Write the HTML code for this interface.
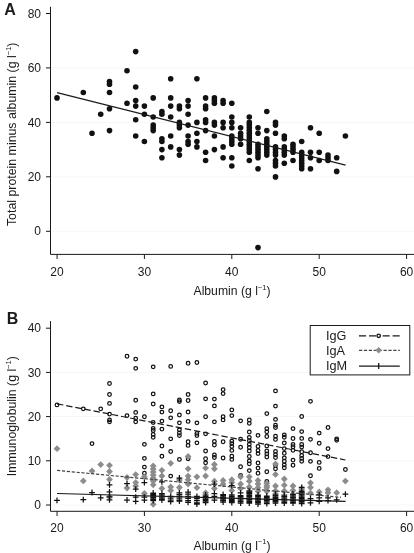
<!DOCTYPE html>
<html><head><meta charset="utf-8">
<style>
html,body{margin:0;padding:0;background:#fff;}
body{width:414px;height:553px;overflow:hidden;position:relative;font-family:"Liberation Sans",sans-serif;color:#1a1a1a;}
svg{position:absolute;left:0;top:0;will-change:transform;}
text{font-family:"Liberation Sans",sans-serif;fill:#1a1a1a;}
.t{font-size:12px;}
.tt{font-size:12.2px;}
.b{font-size:16px;font-weight:bold;}
</style></head><body>
<svg width="414" height="553" viewBox="0 0 414 553">
<!-- gridlines A -->
<g stroke="#f7f7f7" stroke-width="1">
<line x1="51" y1="67.9" x2="414" y2="67.9"/>
<line x1="51" y1="122.4" x2="414" y2="122.4"/>
<line x1="51" y1="176.8" x2="414" y2="176.8"/>
<line x1="51" y1="231.3" x2="414" y2="231.3"/>
</g>
<!-- axes A -->
<g stroke="#1a1a1a" stroke-width="1" fill="none">
<path d="M50.5 6.8V254.4H414"/>
<path d="M46 13.5H50.5M46 67.9H50.5M46 122.4H50.5M46 176.8H50.5M46 231.3H50.5"/>
<path d="M57.05 254.4V259M144.4 254.4V259M231.8 254.4V259M319.2 254.4V259M406.6 254.4V259"/>
</g>
<g class="t" text-anchor="end">
<text x="41" y="17.6">80</text>
<text x="41" y="72">60</text>
<text x="41" y="126.5">40</text>
<text x="41" y="180.9">20</text>
<text x="41" y="235.4">0</text>
</g>
<g class="t" text-anchor="middle">
<text x="57.05" y="276">20</text>
<text x="144.4" y="276">30</text>
<text x="231.8" y="276">40</text>
<text x="319.2" y="276">50</text>
<text x="406.6" y="276">60</text>
<text class="tt" x="232" y="295.3">Albumin (g l<tspan dy="-5.5" font-size="7.5">−1</tspan><tspan dy="5.5">)</tspan></text>
<text class="tt" style="font-size:12.35px" transform="translate(16,134.3) rotate(-90)">Total protein minus albumin (g l<tspan dy="-5.5" font-size="7.5">−1</tspan><tspan dy="5.5">)</tspan></text>
</g>
<text class="b" x="4.2" y="14.8">A</text>
<g fill="#111">
<circle cx="57.0" cy="97.9" r="2.8"/>
<circle cx="83.3" cy="92.5" r="2.8"/>
<circle cx="92.0" cy="133.3" r="2.8"/>
<circle cx="100.7" cy="114.2" r="2.8"/>
<circle cx="109.5" cy="81.6" r="2.8"/>
<circle cx="109.5" cy="84.3" r="2.8"/>
<circle cx="109.5" cy="92.5" r="2.8"/>
<circle cx="109.5" cy="108.8" r="2.8"/>
<circle cx="109.5" cy="130.6" r="2.8"/>
<circle cx="127.0" cy="70.7" r="2.8"/>
<circle cx="127.0" cy="103.3" r="2.8"/>
<circle cx="135.7" cy="51.6" r="2.8"/>
<circle cx="135.7" cy="87.0" r="2.8"/>
<circle cx="135.7" cy="100.6" r="2.8"/>
<circle cx="135.7" cy="106.1" r="2.8"/>
<circle cx="135.7" cy="119.7" r="2.8"/>
<circle cx="135.7" cy="136.0" r="2.8"/>
<circle cx="144.4" cy="106.1" r="2.8"/>
<circle cx="144.4" cy="114.2" r="2.8"/>
<circle cx="144.4" cy="141.5" r="2.8"/>
<circle cx="153.2" cy="97.9" r="2.8"/>
<circle cx="153.2" cy="117.0" r="2.8"/>
<circle cx="153.2" cy="125.1" r="2.8"/>
<circle cx="153.2" cy="127.8" r="2.8"/>
<circle cx="153.2" cy="130.6" r="2.8"/>
<circle cx="161.9" cy="111.5" r="2.8"/>
<circle cx="161.9" cy="114.2" r="2.8"/>
<circle cx="161.9" cy="138.7" r="2.8"/>
<circle cx="161.9" cy="141.5" r="2.8"/>
<circle cx="161.9" cy="149.6" r="2.8"/>
<circle cx="161.9" cy="157.8" r="2.8"/>
<circle cx="170.7" cy="78.8" r="2.8"/>
<circle cx="170.7" cy="97.9" r="2.8"/>
<circle cx="170.7" cy="106.1" r="2.8"/>
<circle cx="170.7" cy="117.0" r="2.8"/>
<circle cx="170.7" cy="136.0" r="2.8"/>
<circle cx="170.7" cy="146.9" r="2.8"/>
<circle cx="179.4" cy="106.1" r="2.8"/>
<circle cx="179.4" cy="108.8" r="2.8"/>
<circle cx="179.4" cy="122.4" r="2.8"/>
<circle cx="179.4" cy="125.1" r="2.8"/>
<circle cx="179.4" cy="127.8" r="2.8"/>
<circle cx="179.4" cy="149.6" r="2.8"/>
<circle cx="179.4" cy="155.1" r="2.8"/>
<circle cx="188.1" cy="100.6" r="2.8"/>
<circle cx="188.1" cy="106.1" r="2.8"/>
<circle cx="188.1" cy="114.2" r="2.8"/>
<circle cx="188.1" cy="125.1" r="2.8"/>
<circle cx="188.1" cy="136.0" r="2.8"/>
<circle cx="188.1" cy="141.5" r="2.8"/>
<circle cx="188.1" cy="144.2" r="2.8"/>
<circle cx="196.9" cy="78.8" r="2.8"/>
<circle cx="196.9" cy="122.4" r="2.8"/>
<circle cx="196.9" cy="133.3" r="2.8"/>
<circle cx="196.9" cy="141.5" r="2.8"/>
<circle cx="196.9" cy="146.9" r="2.8"/>
<circle cx="205.6" cy="97.9" r="2.8"/>
<circle cx="205.6" cy="106.1" r="2.8"/>
<circle cx="205.6" cy="108.8" r="2.8"/>
<circle cx="205.6" cy="119.7" r="2.8"/>
<circle cx="205.6" cy="122.4" r="2.8"/>
<circle cx="205.6" cy="130.6" r="2.8"/>
<circle cx="205.6" cy="152.3" r="2.8"/>
<circle cx="205.6" cy="160.5" r="2.8"/>
<circle cx="214.4" cy="97.9" r="2.8"/>
<circle cx="214.4" cy="100.6" r="2.8"/>
<circle cx="214.4" cy="103.3" r="2.8"/>
<circle cx="214.4" cy="122.4" r="2.8"/>
<circle cx="214.4" cy="125.1" r="2.8"/>
<circle cx="214.4" cy="136.0" r="2.8"/>
<circle cx="214.4" cy="149.6" r="2.8"/>
<circle cx="223.1" cy="100.6" r="2.8"/>
<circle cx="223.1" cy="103.3" r="2.8"/>
<circle cx="223.1" cy="122.4" r="2.8"/>
<circle cx="223.1" cy="127.8" r="2.8"/>
<circle cx="223.1" cy="146.9" r="2.8"/>
<circle cx="223.1" cy="157.8" r="2.8"/>
<circle cx="231.8" cy="103.3" r="2.8"/>
<circle cx="231.8" cy="117.0" r="2.8"/>
<circle cx="231.8" cy="122.4" r="2.8"/>
<circle cx="231.8" cy="127.8" r="2.8"/>
<circle cx="231.8" cy="136.0" r="2.8"/>
<circle cx="231.8" cy="138.7" r="2.8"/>
<circle cx="231.8" cy="141.5" r="2.8"/>
<circle cx="231.8" cy="144.2" r="2.8"/>
<circle cx="231.8" cy="157.8" r="2.8"/>
<circle cx="231.8" cy="166.0" r="2.8"/>
<circle cx="240.6" cy="127.8" r="2.8"/>
<circle cx="240.6" cy="133.3" r="2.8"/>
<circle cx="240.6" cy="136.0" r="2.8"/>
<circle cx="240.6" cy="138.7" r="2.8"/>
<circle cx="240.6" cy="144.2" r="2.8"/>
<circle cx="249.3" cy="117.0" r="2.8"/>
<circle cx="249.3" cy="152.3" r="2.8"/>
<circle cx="249.3" cy="149.6" r="2.8"/>
<circle cx="249.3" cy="146.9" r="2.8"/>
<circle cx="249.3" cy="144.2" r="2.8"/>
<circle cx="249.3" cy="141.5" r="2.8"/>
<circle cx="249.3" cy="138.7" r="2.8"/>
<circle cx="249.3" cy="136.0" r="2.8"/>
<circle cx="249.3" cy="133.3" r="2.8"/>
<circle cx="249.3" cy="130.6" r="2.8"/>
<circle cx="249.3" cy="127.8" r="2.8"/>
<circle cx="249.3" cy="125.1" r="2.8"/>
<circle cx="249.3" cy="122.4" r="2.8"/>
<circle cx="249.3" cy="160.5" r="2.8"/>
<circle cx="258.0" cy="127.8" r="2.8"/>
<circle cx="258.0" cy="133.3" r="2.8"/>
<circle cx="258.0" cy="157.8" r="2.8"/>
<circle cx="258.0" cy="155.1" r="2.8"/>
<circle cx="258.0" cy="152.3" r="2.8"/>
<circle cx="258.0" cy="149.6" r="2.8"/>
<circle cx="258.0" cy="146.9" r="2.8"/>
<circle cx="258.0" cy="144.2" r="2.8"/>
<circle cx="258.0" cy="168.7" r="2.8"/>
<circle cx="258.0" cy="247.6" r="2.8"/>
<circle cx="266.8" cy="111.5" r="2.8"/>
<circle cx="266.8" cy="130.6" r="2.8"/>
<circle cx="266.8" cy="155.1" r="2.8"/>
<circle cx="266.8" cy="152.3" r="2.8"/>
<circle cx="266.8" cy="149.6" r="2.8"/>
<circle cx="266.8" cy="146.9" r="2.8"/>
<circle cx="266.8" cy="144.2" r="2.8"/>
<circle cx="266.8" cy="141.5" r="2.8"/>
<circle cx="266.8" cy="138.7" r="2.8"/>
<circle cx="275.5" cy="122.4" r="2.8"/>
<circle cx="275.5" cy="125.1" r="2.8"/>
<circle cx="275.5" cy="133.3" r="2.8"/>
<circle cx="275.5" cy="155.1" r="2.8"/>
<circle cx="275.5" cy="152.3" r="2.8"/>
<circle cx="275.5" cy="149.6" r="2.8"/>
<circle cx="275.5" cy="146.9" r="2.8"/>
<circle cx="275.5" cy="160.5" r="2.8"/>
<circle cx="275.5" cy="163.2" r="2.8"/>
<circle cx="275.5" cy="166.0" r="2.8"/>
<circle cx="275.5" cy="176.9" r="2.8"/>
<circle cx="284.3" cy="136.0" r="2.8"/>
<circle cx="284.3" cy="138.7" r="2.8"/>
<circle cx="284.3" cy="155.1" r="2.8"/>
<circle cx="284.3" cy="152.3" r="2.8"/>
<circle cx="284.3" cy="149.6" r="2.8"/>
<circle cx="284.3" cy="146.9" r="2.8"/>
<circle cx="284.3" cy="163.2" r="2.8"/>
<circle cx="293.0" cy="152.3" r="2.8"/>
<circle cx="293.0" cy="149.6" r="2.8"/>
<circle cx="293.0" cy="146.9" r="2.8"/>
<circle cx="293.0" cy="144.2" r="2.8"/>
<circle cx="293.0" cy="160.5" r="2.8"/>
<circle cx="301.7" cy="141.5" r="2.8"/>
<circle cx="301.7" cy="168.7" r="2.8"/>
<circle cx="301.7" cy="166.0" r="2.8"/>
<circle cx="301.7" cy="163.2" r="2.8"/>
<circle cx="301.7" cy="160.5" r="2.8"/>
<circle cx="301.7" cy="157.8" r="2.8"/>
<circle cx="301.7" cy="155.1" r="2.8"/>
<circle cx="301.7" cy="152.3" r="2.8"/>
<circle cx="310.5" cy="127.8" r="2.8"/>
<circle cx="310.5" cy="152.3" r="2.8"/>
<circle cx="310.5" cy="157.8" r="2.8"/>
<circle cx="310.5" cy="168.7" r="2.8"/>
<circle cx="319.2" cy="133.3" r="2.8"/>
<circle cx="319.2" cy="152.3" r="2.8"/>
<circle cx="319.2" cy="160.5" r="2.8"/>
<circle cx="328.0" cy="155.1" r="2.8"/>
<circle cx="328.0" cy="157.8" r="2.8"/>
<circle cx="328.0" cy="160.5" r="2.8"/>
<circle cx="336.7" cy="157.8" r="2.8"/>
<circle cx="336.7" cy="171.4" r="2.8"/>
<circle cx="345.4" cy="136.0" r="2.8"/>
</g>
<line x1="57.05" y1="92.7" x2="345.6" y2="165.2" stroke="#1a1a1a" stroke-width="1.2"/>
<!-- gridlines B -->
<g stroke="#f7f7f7" stroke-width="1">
<line x1="51" y1="372.4" x2="414" y2="372.4"/>
<line x1="51" y1="416.6" x2="414" y2="416.6"/>
<line x1="51" y1="460.8" x2="414" y2="460.8"/>
<line x1="51" y1="505" x2="414" y2="505"/>
</g>
<!-- axes B -->
<g stroke="#1a1a1a" stroke-width="1" fill="none">
<path d="M50.5 321.1V511.3H414"/>
<path d="M46 328.2H50.5M46 372.4H50.5M46 416.6H50.5M46 460.8H50.5M46 505H50.5"/>
<path d="M57.05 511.3V516M144.4 511.3V516M231.8 511.3V516M319.2 511.3V516M406.6 511.3V516"/>
</g>
<g class="t" text-anchor="end">
<text x="41" y="332.4">40</text>
<text x="41" y="376.6">30</text>
<text x="41" y="420.8">20</text>
<text x="41" y="465">10</text>
<text x="41" y="509.2">0</text>
</g>
<g class="t" text-anchor="middle">
<text x="57.05" y="532">20</text>
<text x="144.4" y="532">30</text>
<text x="231.8" y="532">40</text>
<text x="319.2" y="532">50</text>
<text x="406.6" y="532">60</text>
<text class="tt" x="232" y="549.5">Albumin (g l<tspan dy="-5.5" font-size="7.5">−1</tspan><tspan dy="5.5">)</tspan></text>
<text class="tt" style="font-size:12.3px" transform="translate(16,416.2) rotate(-90)">Immunoglobulin (g l<tspan dy="-5.5" font-size="7.5">−1</tspan><tspan dy="5.5">)</tspan></text>
</g>
<text class="b" x="6.8" y="324.2">B</text>
<g fill="none" stroke="#111" stroke-width="1.25">
<circle cx="57.0" cy="404.9" r="1.8"/>
<circle cx="83.3" cy="408.8" r="1.8"/>
<circle cx="92.0" cy="443.6" r="1.8"/>
<circle cx="100.7" cy="408.8" r="1.8"/>
<circle cx="109.5" cy="383.5" r="1.8"/>
<circle cx="109.5" cy="394.5" r="1.8"/>
<circle cx="109.5" cy="403.4" r="1.8"/>
<circle cx="109.5" cy="414.1" r="1.8"/>
<circle cx="109.5" cy="419.9" r="1.8"/>
<circle cx="109.5" cy="421.8" r="1.8"/>
<circle cx="127.0" cy="356.2" r="1.8"/>
<circle cx="127.0" cy="415.6" r="1.8"/>
<circle cx="135.7" cy="359.1" r="1.8"/>
<circle cx="135.7" cy="368.3" r="1.8"/>
<circle cx="135.7" cy="400.2" r="1.8"/>
<circle cx="135.7" cy="412.4" r="1.8"/>
<circle cx="135.7" cy="418.2" r="1.8"/>
<circle cx="135.7" cy="421.8" r="1.8"/>
<circle cx="144.4" cy="416.7" r="1.8"/>
<circle cx="144.4" cy="444.3" r="1.8"/>
<circle cx="144.4" cy="458.3" r="1.8"/>
<circle cx="144.4" cy="467.1" r="1.8"/>
<circle cx="144.4" cy="473.2" r="1.8"/>
<circle cx="153.2" cy="366.8" r="1.8"/>
<circle cx="153.2" cy="393.9" r="1.8"/>
<circle cx="153.2" cy="404.0" r="1.8"/>
<circle cx="153.2" cy="422.5" r="1.8"/>
<circle cx="153.2" cy="428.3" r="1.8"/>
<circle cx="153.2" cy="430.5" r="1.8"/>
<circle cx="153.2" cy="434.4" r="1.8"/>
<circle cx="153.2" cy="437.3" r="1.8"/>
<circle cx="161.9" cy="406.9" r="1.8"/>
<circle cx="161.9" cy="412.1" r="1.8"/>
<circle cx="161.9" cy="421.1" r="1.8"/>
<circle cx="161.9" cy="429.1" r="1.8"/>
<circle cx="161.9" cy="446.0" r="1.8"/>
<circle cx="161.9" cy="456.2" r="1.8"/>
<circle cx="170.7" cy="366.4" r="1.8"/>
<circle cx="170.7" cy="410.7" r="1.8"/>
<circle cx="170.7" cy="417.8" r="1.8"/>
<circle cx="170.7" cy="438.8" r="1.8"/>
<circle cx="170.7" cy="451.5" r="1.8"/>
<circle cx="170.7" cy="476.1" r="1.8"/>
<circle cx="179.4" cy="400.0" r="1.8"/>
<circle cx="179.4" cy="401.6" r="1.8"/>
<circle cx="179.4" cy="415.0" r="1.8"/>
<circle cx="179.4" cy="422.8" r="1.8"/>
<circle cx="179.4" cy="429.8" r="1.8"/>
<circle cx="179.4" cy="433.0" r="1.8"/>
<circle cx="179.4" cy="435.6" r="1.8"/>
<circle cx="179.4" cy="459.4" r="1.8"/>
<circle cx="188.1" cy="363.2" r="1.8"/>
<circle cx="188.1" cy="394.5" r="1.8"/>
<circle cx="188.1" cy="400.5" r="1.8"/>
<circle cx="188.1" cy="412.0" r="1.8"/>
<circle cx="188.1" cy="421.4" r="1.8"/>
<circle cx="188.1" cy="441.7" r="1.8"/>
<circle cx="188.1" cy="445.4" r="1.8"/>
<circle cx="188.1" cy="458.7" r="1.8"/>
<circle cx="196.9" cy="362.5" r="1.8"/>
<circle cx="196.9" cy="422.8" r="1.8"/>
<circle cx="196.9" cy="433.4" r="1.8"/>
<circle cx="196.9" cy="435.6" r="1.8"/>
<circle cx="196.9" cy="442.8" r="1.8"/>
<circle cx="205.6" cy="383.0" r="1.8"/>
<circle cx="205.6" cy="398.8" r="1.8"/>
<circle cx="205.6" cy="416.7" r="1.8"/>
<circle cx="205.6" cy="433.8" r="1.8"/>
<circle cx="205.6" cy="451.0" r="1.8"/>
<circle cx="205.6" cy="458.7" r="1.8"/>
<circle cx="205.6" cy="462.8" r="1.8"/>
<circle cx="214.4" cy="399.1" r="1.8"/>
<circle cx="214.4" cy="405.9" r="1.8"/>
<circle cx="214.4" cy="421.8" r="1.8"/>
<circle cx="214.4" cy="441.4" r="1.8"/>
<circle cx="214.4" cy="445.0" r="1.8"/>
<circle cx="214.4" cy="455.0" r="1.8"/>
<circle cx="214.4" cy="457.5" r="1.8"/>
<circle cx="223.1" cy="389.6" r="1.8"/>
<circle cx="223.1" cy="393.6" r="1.8"/>
<circle cx="223.1" cy="416.7" r="1.8"/>
<circle cx="223.1" cy="419.9" r="1.8"/>
<circle cx="223.1" cy="441.7" r="1.8"/>
<circle cx="223.1" cy="458.0" r="1.8"/>
<circle cx="231.8" cy="409.9" r="1.8"/>
<circle cx="231.8" cy="415.6" r="1.8"/>
<circle cx="231.8" cy="441.1" r="1.8"/>
<circle cx="231.8" cy="443.6" r="1.8"/>
<circle cx="231.8" cy="446.4" r="1.8"/>
<circle cx="231.8" cy="450.4" r="1.8"/>
<circle cx="231.8" cy="456.2" r="1.8"/>
<circle cx="231.8" cy="459.4" r="1.8"/>
<circle cx="240.6" cy="420.8" r="1.8"/>
<circle cx="240.6" cy="439.2" r="1.8"/>
<circle cx="240.6" cy="447.2" r="1.8"/>
<circle cx="240.6" cy="466.7" r="1.8"/>
<circle cx="240.6" cy="475.4" r="1.8"/>
<circle cx="249.3" cy="419.9" r="1.8"/>
<circle cx="249.3" cy="423.3" r="1.8"/>
<circle cx="249.3" cy="432.0" r="1.8"/>
<circle cx="249.3" cy="437.3" r="1.8"/>
<circle cx="249.3" cy="440.7" r="1.8"/>
<circle cx="249.3" cy="444.3" r="1.8"/>
<circle cx="249.3" cy="447.5" r="1.8"/>
<circle cx="249.3" cy="451.0" r="1.8"/>
<circle cx="249.3" cy="456.5" r="1.8"/>
<circle cx="249.3" cy="460.9" r="1.8"/>
<circle cx="249.3" cy="463.8" r="1.8"/>
<circle cx="249.3" cy="470.6" r="1.8"/>
<circle cx="258.0" cy="435.3" r="1.8"/>
<circle cx="258.0" cy="446.4" r="1.8"/>
<circle cx="258.0" cy="450.5" r="1.8"/>
<circle cx="258.0" cy="453.6" r="1.8"/>
<circle cx="258.0" cy="463.0" r="1.8"/>
<circle cx="258.0" cy="468.1" r="1.8"/>
<circle cx="258.0" cy="473.2" r="1.8"/>
<circle cx="266.8" cy="413.6" r="1.8"/>
<circle cx="266.8" cy="428.6" r="1.8"/>
<circle cx="266.8" cy="431.8" r="1.8"/>
<circle cx="266.8" cy="436.5" r="1.8"/>
<circle cx="266.8" cy="445.9" r="1.8"/>
<circle cx="266.8" cy="451.0" r="1.8"/>
<circle cx="266.8" cy="453.9" r="1.8"/>
<circle cx="266.8" cy="457.0" r="1.8"/>
<circle cx="266.8" cy="471.7" r="1.8"/>
<circle cx="266.8" cy="481.4" r="1.8"/>
<circle cx="275.5" cy="390.9" r="1.8"/>
<circle cx="275.5" cy="406.1" r="1.8"/>
<circle cx="275.5" cy="419.4" r="1.8"/>
<circle cx="275.5" cy="425.2" r="1.8"/>
<circle cx="275.5" cy="427.5" r="1.8"/>
<circle cx="275.5" cy="436.2" r="1.8"/>
<circle cx="275.5" cy="439.4" r="1.8"/>
<circle cx="275.5" cy="451.4" r="1.8"/>
<circle cx="275.5" cy="454.6" r="1.8"/>
<circle cx="275.5" cy="457.5" r="1.8"/>
<circle cx="275.5" cy="465.5" r="1.8"/>
<circle cx="275.5" cy="468.8" r="1.8"/>
<circle cx="284.3" cy="434.8" r="1.8"/>
<circle cx="284.3" cy="437.2" r="1.8"/>
<circle cx="284.3" cy="443.0" r="1.8"/>
<circle cx="284.3" cy="448.6" r="1.8"/>
<circle cx="284.3" cy="453.2" r="1.8"/>
<circle cx="284.3" cy="457.8" r="1.8"/>
<circle cx="284.3" cy="461.2" r="1.8"/>
<circle cx="284.3" cy="464.8" r="1.8"/>
<circle cx="284.3" cy="467.7" r="1.8"/>
<circle cx="293.0" cy="428.6" r="1.8"/>
<circle cx="293.0" cy="438.5" r="1.8"/>
<circle cx="293.0" cy="444.5" r="1.8"/>
<circle cx="293.0" cy="446.7" r="1.8"/>
<circle cx="293.0" cy="450.3" r="1.8"/>
<circle cx="293.0" cy="460.1" r="1.8"/>
<circle cx="293.0" cy="465.2" r="1.8"/>
<circle cx="301.7" cy="416.5" r="1.8"/>
<circle cx="301.7" cy="431.6" r="1.8"/>
<circle cx="301.7" cy="438.4" r="1.8"/>
<circle cx="301.7" cy="444.5" r="1.8"/>
<circle cx="301.7" cy="447.1" r="1.8"/>
<circle cx="301.7" cy="451.7" r="1.8"/>
<circle cx="301.7" cy="455.4" r="1.8"/>
<circle cx="301.7" cy="458.3" r="1.8"/>
<circle cx="301.7" cy="461.2" r="1.8"/>
<circle cx="310.5" cy="401.3" r="1.8"/>
<circle cx="310.5" cy="439.3" r="1.8"/>
<circle cx="310.5" cy="452.7" r="1.8"/>
<circle cx="310.5" cy="461.3" r="1.8"/>
<circle cx="310.5" cy="475.7" r="1.8"/>
<circle cx="319.2" cy="433.1" r="1.8"/>
<circle cx="319.2" cy="443.2" r="1.8"/>
<circle cx="319.2" cy="462.4" r="1.8"/>
<circle cx="319.2" cy="468.4" r="1.8"/>
<circle cx="328.0" cy="427.5" r="1.8"/>
<circle cx="328.0" cy="448.6" r="1.8"/>
<circle cx="328.0" cy="456.6" r="1.8"/>
<circle cx="336.7" cy="438.8" r="1.8"/>
<circle cx="336.7" cy="440.3" r="1.8"/>
<circle cx="345.4" cy="469.5" r="1.8"/>
</g>
<g fill="#8c8c8c">
<path d="M57.0 445.3l3.4 3.4l-3.4 3.4l-3.4 -3.4z"/>
<path d="M83.3 477.5l3.4 3.4l-3.4 3.4l-3.4 -3.4z"/>
<path d="M92.0 467.5l3.4 3.4l-3.4 3.4l-3.4 -3.4z"/>
<path d="M100.7 461.2l3.4 3.4l-3.4 3.4l-3.4 -3.4z"/>
<path d="M109.5 461.9l3.4 3.4l-3.4 3.4l-3.4 -3.4z"/>
<path d="M109.5 468.1l3.4 3.4l-3.4 3.4l-3.4 -3.4z"/>
<path d="M109.5 476.0l3.4 3.4l-3.4 3.4l-3.4 -3.4z"/>
<path d="M109.5 493.6l3.4 3.4l-3.4 3.4l-3.4 -3.4z"/>
<path d="M127.0 474.1l3.4 3.4l-3.4 3.4l-3.4 -3.4z"/>
<path d="M127.0 484.6l3.4 3.4l-3.4 3.4l-3.4 -3.4z"/>
<path d="M135.7 471.2l3.4 3.4l-3.4 3.4l-3.4 -3.4z"/>
<path d="M135.7 479.2l3.4 3.4l-3.4 3.4l-3.4 -3.4z"/>
<path d="M135.7 482.6l3.4 3.4l-3.4 3.4l-3.4 -3.4z"/>
<path d="M144.4 473.4l3.4 3.4l-3.4 3.4l-3.4 -3.4z"/>
<path d="M144.4 490.1l3.4 3.4l-3.4 3.4l-3.4 -3.4z"/>
<path d="M153.2 462.5l3.4 3.4l-3.4 3.4l-3.4 -3.4z"/>
<path d="M153.2 465.6l3.4 3.4l-3.4 3.4l-3.4 -3.4z"/>
<path d="M153.2 468.6l3.4 3.4l-3.4 3.4l-3.4 -3.4z"/>
<path d="M153.2 471.6l3.4 3.4l-3.4 3.4l-3.4 -3.4z"/>
<path d="M153.2 474.6l3.4 3.4l-3.4 3.4l-3.4 -3.4z"/>
<path d="M153.2 477.6l3.4 3.4l-3.4 3.4l-3.4 -3.4z"/>
<path d="M153.2 481.4l3.4 3.4l-3.4 3.4l-3.4 -3.4z"/>
<path d="M153.2 500.9l3.4 3.4l-3.4 3.4l-3.4 -3.4z"/>
<path d="M161.9 466.9l3.4 3.4l-3.4 3.4l-3.4 -3.4z"/>
<path d="M161.9 472.6l3.4 3.4l-3.4 3.4l-3.4 -3.4z"/>
<path d="M161.9 485.0l3.4 3.4l-3.4 3.4l-3.4 -3.4z"/>
<path d="M170.7 459.9l3.4 3.4l-3.4 3.4l-3.4 -3.4z"/>
<path d="M170.7 483.6l3.4 3.4l-3.4 3.4l-3.4 -3.4z"/>
<path d="M170.7 487.2l3.4 3.4l-3.4 3.4l-3.4 -3.4z"/>
<path d="M179.4 476.6l3.4 3.4l-3.4 3.4l-3.4 -3.4z"/>
<path d="M179.4 484.1l3.4 3.4l-3.4 3.4l-3.4 -3.4z"/>
<path d="M188.1 453.1l3.4 3.4l-3.4 3.4l-3.4 -3.4z"/>
<path d="M188.1 465.4l3.4 3.4l-3.4 3.4l-3.4 -3.4z"/>
<path d="M188.1 472.7l3.4 3.4l-3.4 3.4l-3.4 -3.4z"/>
<path d="M188.1 476.3l3.4 3.4l-3.4 3.4l-3.4 -3.4z"/>
<path d="M188.1 480.6l3.4 3.4l-3.4 3.4l-3.4 -3.4z"/>
<path d="M196.9 473.4l3.4 3.4l-3.4 3.4l-3.4 -3.4z"/>
<path d="M196.9 484.3l3.4 3.4l-3.4 3.4l-3.4 -3.4z"/>
<path d="M205.6 464.7l3.4 3.4l-3.4 3.4l-3.4 -3.4z"/>
<path d="M205.6 472.6l3.4 3.4l-3.4 3.4l-3.4 -3.4z"/>
<path d="M205.6 489.4l3.4 3.4l-3.4 3.4l-3.4 -3.4z"/>
<path d="M214.4 461.1l3.4 3.4l-3.4 3.4l-3.4 -3.4z"/>
<path d="M214.4 465.4l3.4 3.4l-3.4 3.4l-3.4 -3.4z"/>
<path d="M214.4 477.8l3.4 3.4l-3.4 3.4l-3.4 -3.4z"/>
<path d="M214.4 485.0l3.4 3.4l-3.4 3.4l-3.4 -3.4z"/>
<path d="M223.1 477.0l3.4 3.4l-3.4 3.4l-3.4 -3.4z"/>
<path d="M223.1 480.6l3.4 3.4l-3.4 3.4l-3.4 -3.4z"/>
<path d="M231.8 476.3l3.4 3.4l-3.4 3.4l-3.4 -3.4z"/>
<path d="M231.8 479.2l3.4 3.4l-3.4 3.4l-3.4 -3.4z"/>
<path d="M231.8 487.2l3.4 3.4l-3.4 3.4l-3.4 -3.4z"/>
<path d="M240.6 473.4l3.4 3.4l-3.4 3.4l-3.4 -3.4z"/>
<path d="M240.6 480.6l3.4 3.4l-3.4 3.4l-3.4 -3.4z"/>
<path d="M240.6 485.0l3.4 3.4l-3.4 3.4l-3.4 -3.4z"/>
<path d="M249.3 473.4l3.4 3.4l-3.4 3.4l-3.4 -3.4z"/>
<path d="M249.3 477.8l3.4 3.4l-3.4 3.4l-3.4 -3.4z"/>
<path d="M249.3 483.6l3.4 3.4l-3.4 3.4l-3.4 -3.4z"/>
<path d="M249.3 487.9l3.4 3.4l-3.4 3.4l-3.4 -3.4z"/>
<path d="M258.0 477.0l3.4 3.4l-3.4 3.4l-3.4 -3.4z"/>
<path d="M258.0 480.6l3.4 3.4l-3.4 3.4l-3.4 -3.4z"/>
<path d="M258.0 484.3l3.4 3.4l-3.4 3.4l-3.4 -3.4z"/>
<path d="M258.0 487.9l3.4 3.4l-3.4 3.4l-3.4 -3.4z"/>
<path d="M266.8 479.9l3.4 3.4l-3.4 3.4l-3.4 -3.4z"/>
<path d="M266.8 484.3l3.4 3.4l-3.4 3.4l-3.4 -3.4z"/>
<path d="M266.8 487.9l3.4 3.4l-3.4 3.4l-3.4 -3.4z"/>
<path d="M266.8 482.4l3.4 3.4l-3.4 3.4l-3.4 -3.4z"/>
<path d="M275.5 460.6l3.4 3.4l-3.4 3.4l-3.4 -3.4z"/>
<path d="M275.5 471.0l3.4 3.4l-3.4 3.4l-3.4 -3.4z"/>
<path d="M275.5 482.6l3.4 3.4l-3.4 3.4l-3.4 -3.4z"/>
<path d="M275.5 487.6l3.4 3.4l-3.4 3.4l-3.4 -3.4z"/>
<path d="M284.3 475.6l3.4 3.4l-3.4 3.4l-3.4 -3.4z"/>
<path d="M284.3 481.8l3.4 3.4l-3.4 3.4l-3.4 -3.4z"/>
<path d="M284.3 487.6l3.4 3.4l-3.4 3.4l-3.4 -3.4z"/>
<path d="M293.0 482.6l3.4 3.4l-3.4 3.4l-3.4 -3.4z"/>
<path d="M293.0 487.0l3.4 3.4l-3.4 3.4l-3.4 -3.4z"/>
<path d="M301.7 485.6l3.4 3.4l-3.4 3.4l-3.4 -3.4z"/>
<path d="M301.7 489.6l3.4 3.4l-3.4 3.4l-3.4 -3.4z"/>
<path d="M310.5 479.4l3.4 3.4l-3.4 3.4l-3.4 -3.4z"/>
<path d="M310.5 484.0l3.4 3.4l-3.4 3.4l-3.4 -3.4z"/>
<path d="M310.5 489.7l3.4 3.4l-3.4 3.4l-3.4 -3.4z"/>
<path d="M319.2 488.6l3.4 3.4l-3.4 3.4l-3.4 -3.4z"/>
<path d="M328.0 486.4l3.4 3.4l-3.4 3.4l-3.4 -3.4z"/>
<path d="M328.0 489.3l3.4 3.4l-3.4 3.4l-3.4 -3.4z"/>
<path d="M336.7 489.3l3.4 3.4l-3.4 3.4l-3.4 -3.4z"/>
<path d="M345.4 477.7l3.4 3.4l-3.4 3.4l-3.4 -3.4z"/>
</g>
<g stroke="#111" stroke-width="1.25" fill="none">
<path d="M54.1 500.4h5.8M57.0 497.5v5.8M80.4 499.7h5.8M83.3 496.8v5.8M89.1 492.5h5.8M92.0 489.6v5.8M97.8 497.8h5.8M100.7 494.9v5.8M106.6 484.8h5.8M109.5 481.9v5.8M106.6 491.8h5.8M109.5 488.9v5.8M106.6 496.9h5.8M109.5 494.0v5.8M106.6 499.8h5.8M109.5 496.9v5.8M124.1 483.6h5.8M127.0 480.7v5.8M124.1 500.0h5.8M127.0 497.1v5.8M132.8 489.1h5.8M135.7 486.2v5.8M132.8 497.1h5.8M135.7 494.2v5.8M132.8 501.4h5.8M135.7 498.5v5.8M141.5 482.6h5.8M144.4 479.7v5.8M141.5 497.1h5.8M144.4 494.2v5.8M141.5 500.0h5.8M144.4 497.1v5.8M150.3 493.5h5.8M153.2 490.6v5.8M150.3 495.7h5.8M153.2 492.8v5.8M150.3 499.3h5.8M153.2 496.4v5.8M150.3 493.0h5.8M153.2 490.1v5.8M150.3 494.5h5.8M153.2 491.6v5.8M150.3 496.0h5.8M153.2 493.1v5.8M150.3 497.5h5.8M153.2 494.6v5.8M150.3 499.0h5.8M153.2 496.1v5.8M150.3 500.5h5.8M153.2 497.6v5.8M159.0 481.9h5.8M161.9 479.0v5.8M159.0 493.5h5.8M161.9 490.6v5.8M159.0 497.0h5.8M161.9 494.1v5.8M159.0 500.0h5.8M161.9 497.1v5.8M159.0 495.2h5.8M161.9 492.3v5.8M159.0 498.8h5.8M161.9 495.9v5.8M167.8 496.4h5.8M170.7 493.5v5.8M167.8 500.0h5.8M170.7 497.1v5.8M167.8 498.2h5.8M170.7 495.3v5.8M167.8 501.5h5.8M170.7 498.6v5.8M176.5 478.0h5.8M179.4 475.1v5.8M176.5 492.8h5.8M179.4 489.9v5.8M176.5 496.4h5.8M179.4 493.5v5.8M176.5 500.0h5.8M179.4 497.1v5.8M176.5 494.6h5.8M179.4 491.7v5.8M176.5 498.2h5.8M179.4 495.3v5.8M176.5 501.2h5.8M179.4 498.3v5.8M185.2 492.0h5.8M188.1 489.1v5.8M185.2 496.4h5.8M188.1 493.5v5.8M185.2 500.7h5.8M188.1 497.8v5.8M185.2 494.2h5.8M188.1 491.3v5.8M185.2 498.4h5.8M188.1 495.5v5.8M185.2 502.3h5.8M188.1 499.4v5.8M194.0 496.4h5.8M196.9 493.5v5.8M194.0 500.7h5.8M196.9 497.8v5.8M194.0 502.9h5.8M196.9 500.0v5.8M194.0 498.6h5.8M196.9 495.7v5.8M194.0 504.0h5.8M196.9 501.1v5.8M202.7 497.1h5.8M205.6 494.2v5.8M202.7 500.0h5.8M205.6 497.1v5.8M202.7 495.0h5.8M205.6 492.1v5.8M202.7 496.5h5.8M205.6 493.6v5.8M202.7 498.0h5.8M205.6 495.1v5.8M202.7 499.5h5.8M205.6 496.6v5.8M202.7 501.0h5.8M205.6 498.1v5.8M202.7 502.5h5.8M205.6 499.6v5.8M211.5 484.0h5.8M214.4 481.1v5.8M211.5 493.5h5.8M214.4 490.6v5.8M211.5 496.4h5.8M214.4 493.5v5.8M211.5 500.0h5.8M214.4 497.1v5.8M220.2 494.9h5.8M223.1 492.0v5.8M220.2 497.8h5.8M223.1 494.9v5.8M220.2 500.7h5.8M223.1 497.8v5.8M220.2 494.5h5.8M223.1 491.6v5.8M220.2 496.0h5.8M223.1 493.1v5.8M220.2 497.5h5.8M223.1 494.6v5.8M220.2 499.0h5.8M223.1 496.1v5.8M220.2 500.5h5.8M223.1 497.6v5.8M220.2 502.0h5.8M223.1 499.1v5.8M228.9 485.5h5.8M231.8 482.6v5.8M228.9 494.9h5.8M231.8 492.0v5.8M228.9 500.0h5.8M231.8 497.1v5.8M228.9 502.2h5.8M231.8 499.3v5.8M228.9 495.0h5.8M231.8 492.1v5.8M228.9 496.5h5.8M231.8 493.6v5.8M228.9 498.0h5.8M231.8 495.1v5.8M228.9 499.5h5.8M231.8 496.6v5.8M228.9 501.0h5.8M231.8 498.1v5.8M228.9 502.5h5.8M231.8 499.6v5.8M237.7 492.8h5.8M240.6 489.9v5.8M237.7 496.4h5.8M240.6 493.5v5.8M237.7 500.0h5.8M240.6 497.1v5.8M237.7 495.5h5.8M240.6 492.6v5.8M237.7 497.0h5.8M240.6 494.1v5.8M237.7 498.5h5.8M240.6 495.6v5.8M237.7 500.0h5.8M240.6 497.1v5.8M237.7 501.5h5.8M240.6 498.6v5.8M237.7 503.0h5.8M240.6 500.1v5.8M246.4 493.5h5.8M249.3 490.6v5.8M246.4 496.4h5.8M249.3 493.5v5.8M246.4 499.3h5.8M249.3 496.4v5.8M246.4 502.2h5.8M249.3 499.3v5.8M246.4 491.0h5.8M249.3 488.1v5.8M246.4 492.5h5.8M249.3 489.6v5.8M246.4 494.0h5.8M249.3 491.1v5.8M246.4 495.5h5.8M249.3 492.6v5.8M246.4 497.0h5.8M249.3 494.1v5.8M246.4 498.5h5.8M249.3 495.6v5.8M246.4 500.0h5.8M249.3 497.1v5.8M246.4 501.5h5.8M249.3 498.6v5.8M246.4 503.0h5.8M249.3 500.1v5.8M255.1 496.4h5.8M258.0 493.5v5.8M255.1 499.3h5.8M258.0 496.4v5.8M255.1 501.4h5.8M258.0 498.5v5.8M255.1 495.0h5.8M258.0 492.1v5.8M255.1 496.5h5.8M258.0 493.6v5.8M255.1 498.0h5.8M258.0 495.1v5.8M255.1 499.5h5.8M258.0 496.6v5.8M255.1 501.0h5.8M258.0 498.1v5.8M255.1 502.5h5.8M258.0 499.6v5.8M255.1 504.0h5.8M258.0 501.1v5.8M263.9 496.4h5.8M266.8 493.5v5.8M263.9 500.0h5.8M266.8 497.1v5.8M263.9 502.2h5.8M266.8 499.3v5.8M263.9 496.0h5.8M266.8 493.1v5.8M263.9 497.5h5.8M266.8 494.6v5.8M263.9 499.0h5.8M266.8 496.1v5.8M263.9 500.5h5.8M266.8 497.6v5.8M263.9 502.0h5.8M266.8 499.1v5.8M263.9 503.5h5.8M266.8 500.6v5.8M272.6 494.0h5.8M275.5 491.1v5.8M272.6 497.5h5.8M275.5 494.6v5.8M272.6 500.5h5.8M275.5 497.6v5.8M272.6 503.0h5.8M275.5 500.1v5.8M272.6 494.0h5.8M275.5 491.1v5.8M272.6 495.5h5.8M275.5 492.6v5.8M272.6 497.0h5.8M275.5 494.1v5.8M272.6 498.5h5.8M275.5 495.6v5.8M272.6 500.0h5.8M275.5 497.1v5.8M272.6 501.5h5.8M275.5 498.6v5.8M272.6 503.0h5.8M275.5 500.1v5.8M281.4 495.0h5.8M284.3 492.1v5.8M281.4 498.0h5.8M284.3 495.1v5.8M281.4 501.0h5.8M284.3 498.1v5.8M281.4 503.0h5.8M284.3 500.1v5.8M281.4 495.0h5.8M284.3 492.1v5.8M281.4 496.5h5.8M284.3 493.6v5.8M281.4 498.0h5.8M284.3 495.1v5.8M281.4 499.5h5.8M284.3 496.6v5.8M281.4 501.0h5.8M284.3 498.1v5.8M281.4 502.5h5.8M284.3 499.6v5.8M290.1 494.0h5.8M293.0 491.1v5.8M290.1 497.5h5.8M293.0 494.6v5.8M290.1 500.5h5.8M293.0 497.6v5.8M290.1 503.0h5.8M293.0 500.1v5.8M290.1 494.5h5.8M293.0 491.6v5.8M290.1 496.0h5.8M293.0 493.1v5.8M290.1 497.5h5.8M293.0 494.6v5.8M290.1 499.0h5.8M293.0 496.1v5.8M290.1 500.5h5.8M293.0 497.6v5.8M290.1 502.0h5.8M293.0 499.1v5.8M298.8 487.3h5.8M301.7 484.4v5.8M298.8 491.0h5.8M301.7 488.1v5.8M298.8 494.5h5.8M301.7 491.6v5.8M298.8 498.0h5.8M301.7 495.1v5.8M298.8 501.0h5.8M301.7 498.1v5.8M298.8 503.5h5.8M301.7 500.6v5.8M298.8 491.5h5.8M301.7 488.6v5.8M298.8 493.0h5.8M301.7 490.1v5.8M298.8 494.5h5.8M301.7 491.6v5.8M298.8 496.0h5.8M301.7 493.1v5.8M298.8 497.5h5.8M301.7 494.6v5.8M298.8 499.0h5.8M301.7 496.1v5.8M298.8 500.5h5.8M301.7 497.6v5.8M298.8 502.0h5.8M301.7 499.1v5.8M298.8 503.5h5.8M301.7 500.6v5.8M307.6 498.5h5.8M310.5 495.6v5.8M307.6 502.8h5.8M310.5 499.9v5.8M316.3 494.9h5.8M319.2 492.0v5.8M316.3 497.8h5.8M319.2 494.9v5.8M316.3 501.4h5.8M319.2 498.5v5.8M325.1 497.8h5.8M328.0 494.9v5.8M325.1 500.7h5.8M328.0 497.8v5.8M333.8 499.9h5.8M336.7 497.0v5.8M342.5 494.1h5.8M345.4 491.2v5.8"/>
</g>
<g stroke="#1a1a1a" stroke-width="1.2" fill="none">
<line x1="57.05" y1="403.8" x2="345.4" y2="460" stroke-dasharray="6.4 2.9"/>
<line x1="57.05" y1="470.4" x2="341" y2="497.3" stroke="#444" stroke-dasharray="3.2 1.7"/>
<line x1="57.05" y1="493.5" x2="345.6" y2="501.4"/>
</g>
<!-- legend -->
<rect x="310.2" y="325.5" width="99.6" height="49.4" fill="#fff" stroke="#1a1a1a" stroke-width="1"/>
<g font-size="12.7">
<text x="326" y="340.4">IgG</text>
<text x="326" y="355">IgA</text>
<text x="326" y="369.6">IgM</text>
</g>
<g stroke="#1a1a1a" stroke-width="1.2" fill="none">
<path d="M359 335.8h7.1M369 335.8h7.1M382.6 335.8h7.1M392.6 335.8h7.1"/>
<circle cx="378.7" cy="335.8" r="1.7" stroke-width="1.4"/>
<line x1="359" y1="350.3" x2="399.8" y2="350.3" stroke="#444" stroke-dasharray="3.2 1.7"/>
<path d="M359 366.1H399.8M378.7 363.1V369.1" stroke-width="1.3"/>
</g>
<path d="M378.7 347l3.3 3.3l-3.3 3.3l-3.3 -3.3z" fill="#8c8c8c"/>

</svg>
</body></html>
